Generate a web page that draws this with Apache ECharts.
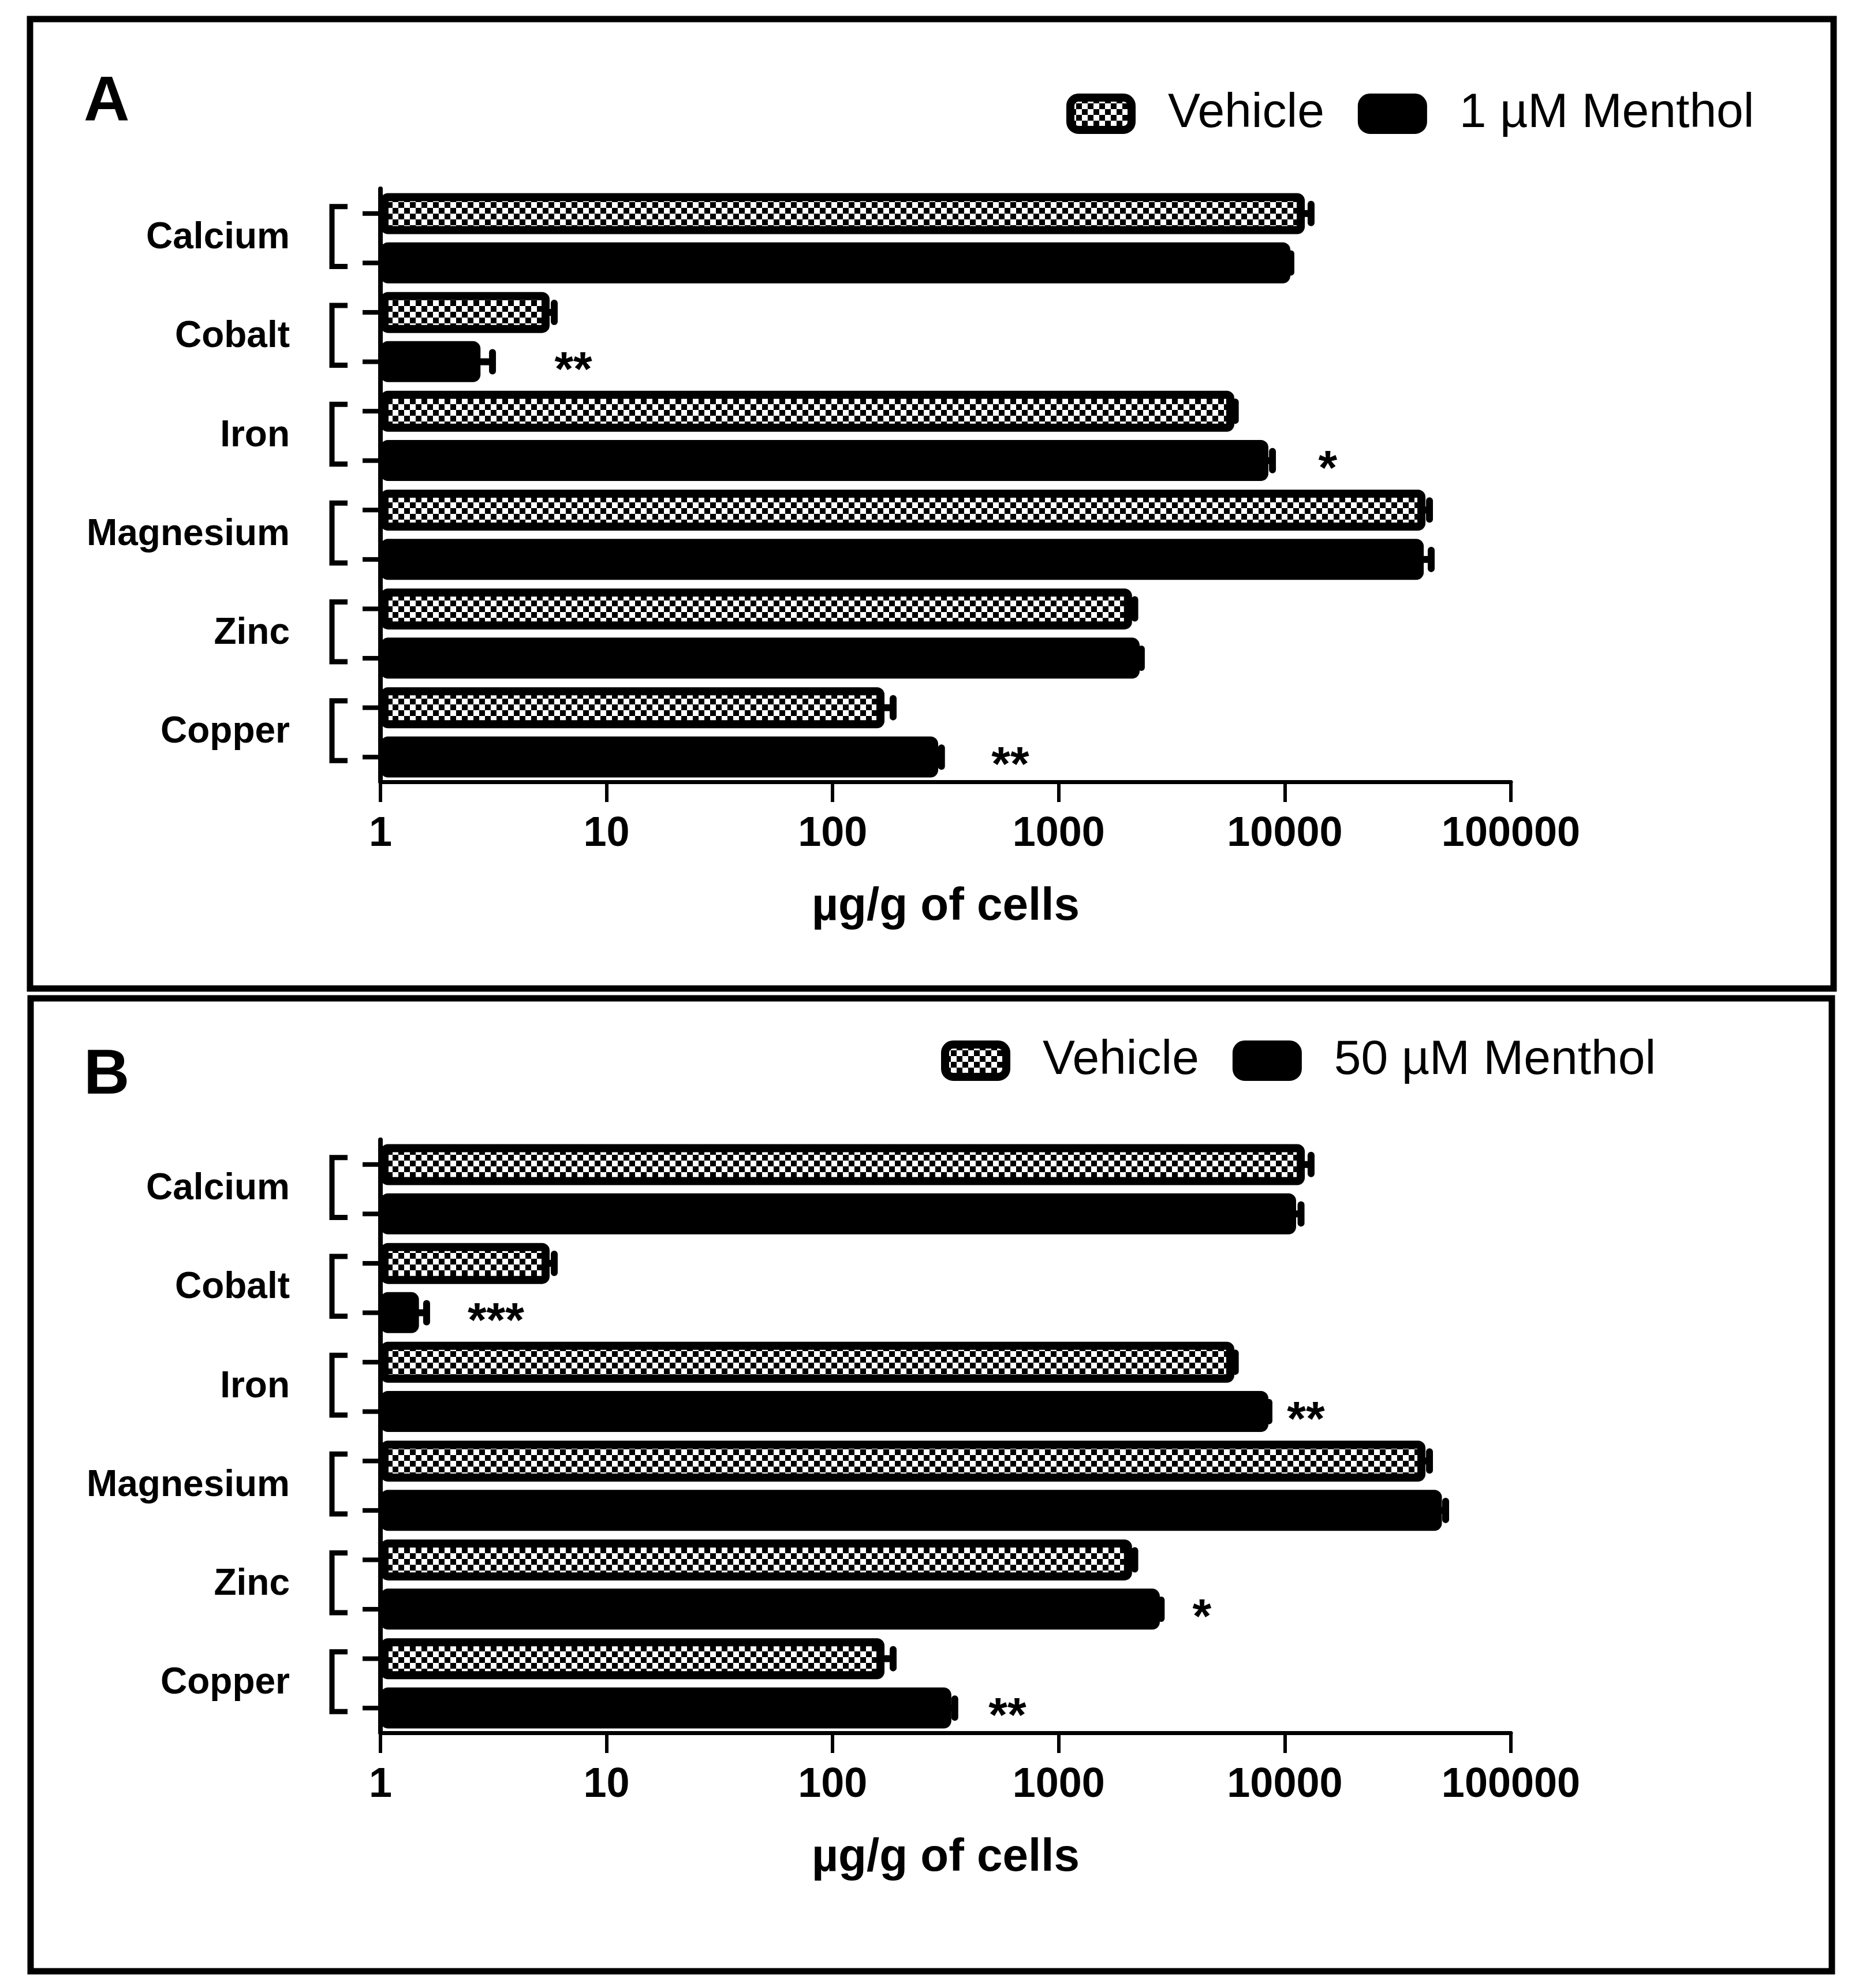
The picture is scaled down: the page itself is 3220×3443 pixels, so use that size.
<!DOCTYPE html>
<html><head><meta charset="utf-8">
<script src="https://cdn.jsdelivr.net/npm/echarts@6/dist/echarts.min.js"></script>
<style>html,body{margin:0;padding:0;background:#fff}#c{width:3220px;height:3443px}</style>
</head><body><div id="c"></div>
<script>
// ---------------- data ----------------
const categories = ['Calcium', 'Cobalt', 'Iron', 'Magnesium', 'Zinc', 'Copper'];
const xTickLabels = ['1', '10', '100', '1000', '10000', '100000'];
const xAxisTitle = 'µg/g of cells';

const vehicleA     = [12260, 5.60, 5980, 41900, 2110, 169.6];
const vehicleSemA  = [810,   0.27, 60,   1750,  60,   15.6];
const menthol1     = [10580, 2.77, 8460, 41170, 2280, 293];
const menthol1Sem  = [60,    0.36, 360,  3250,  40,   10];

const vehicleB     = [12260, 5.60, 5980, 41900, 2110, 169.6];
const vehicleSemB  = [810,   0.27, 60,   1750,  60,   15.6];
const menthol50    = [11220, 1.48, 8460, 49530, 2800, 335];
const menthol50Sem = [580,   0.12, 50,   1930,  40,   12];

const sigACats = ['Cobalt', 'Iron', 'Copper'];
const sigAX    = [7.13, 15500, 611];
const sigAText = ['**', '*', '**'];
const sigBCats = ['Cobalt', 'Iron', 'Zinc', 'Copper'];
const sigBX    = [3.24, 12400, 4300, 593];
const sigBText = ['***', '**', '*', '**'];

const panelLabels = ['A', 'B'];
const seriesNamesA = ['Vehicle', '1 µM Menthol'];
const seriesNamesB = ['Vehicle', '50 µM Menthol'];

// ---------------- styles ----------------
const FONT = '"Liberation Sans", Arial, sans-serif';
function checker() {
  const c = document.createElement('canvas');
  c.width = 20; c.height = 20;
  const g = c.getContext('2d');
  g.fillStyle = '#fff'; g.fillRect(0, 0, 20, 20);
  g.fillStyle = '#000'; g.fillRect(0, 0, 10, 10); g.fillRect(10, 10, 10, 10);
  return c;
}
const checkerFill = { image: checker(), repeat: 'repeat' };

const PANEL_SHIFT = 1647;
const gridTopA = 327, gridH = 1027, gridLeft = 659, gridW = 1958;

function grid(i) {
  return { left: gridLeft, width: gridW, top: gridTopA + i * PANEL_SHIFT, height: gridH, containLabel: false };
}
function xAxis(i) {
  return {
    gridIndex: i, type: 'log', logBase: 10, min: 1, max: 100000,
    axisLine: { show: true, lineStyle: { color: '#000', width: 7 } },
    axisTick: { show: true, length: 35, lineStyle: { color: '#000', width: 6 } },
    splitLine: { show: false },
    axisLabel: {
      color: '#000', fontSize: 72, fontWeight: 'bold', fontFamily: FONT, margin: 55,
      formatter: v => xTickLabels[Math.round(Math.log10(v))]
    },
    name: xAxisTitle, nameLocation: 'middle', nameGap: 177,
    nameTextStyle: { color: '#000', fontSize: 80, fontWeight: 'bold', fontFamily: FONT }
  };
}
function yAxis(i) {
  return {
    gridIndex: i, type: 'category', data: categories, inverse: true,
    axisLine: { show: true, lineStyle: { color: '#000', width: 8 } },
    axisTick: { show: false },
    axisLabel: { color: '#000', fontSize: 64, fontWeight: 'bold', fontFamily: FONT, margin: 157, padding: [18, 0, 0, 0] }
  };
}
function barSeries(name, data, i, fill) {
  return {
    name, type: 'bar', xAxisIndex: i, yAxisIndex: i, data,
    barWidth: 71, barGap: '20%',
    itemStyle: { color: fill, borderColor: '#000', borderWidth: 14, borderRadius: 6 },
    emphasis: { disabled: true }, z: 2
  };
}
function errSeries(means, sems, slot, i) {
  return {
    type: 'custom', xAxisIndex: i, yAxisIndex: i, clip: false, z: 3,
    data: means.map((m, k) => [m, k, sems[k], slot]),
    encode: { x: 0, y: 1 },
    renderItem: (params, api) => {
      const m = api.value(0), k = api.value(1), s = api.value(2), sl = api.value(3);
      const p0 = api.coord([m, k]);
      const p1 = api.coord([m + s, k]);
      const band = api.size([0, 1], [m, k])[1];
      const y = p0[1] + sl * band * 0.25;
      return { type: 'group', children: [
        { type: 'line', shape: { x1: p0[0] - 8, y1: y, x2: p1[0], y2: y }, style: { stroke: '#000', lineWidth: 12 } },
        { type: 'line', shape: { x1: p1[0], y1: y - 16, x2: p1[0], y2: y + 16 }, style: { stroke: '#000', lineWidth: 12, lineCap: 'round' } }
      ] };
    }
  };
}
function bracketSeries(i) {
  return {
    type: 'custom', xAxisIndex: i, yAxisIndex: i, clip: false, z: 3, silent: true,
    data: categories.map((c, k) => [1, k]),
    encode: { x: 0, y: 1 },
    renderItem: (params, api) => {
      const k = api.value(1);
      const p = api.coord([1, k]);
      const band = api.size([0, 1], [1, k])[1];
      const off = band * 0.25;
      const x0 = p[0], yc = p[1];
      const st = { stroke: '#000', lineWidth: 8, fill: null };
      return { type: 'group', children: [
        { type: 'line', shape: { x1: x0 - 31, y1: yc - off, x2: x0, y2: yc - off }, style: st },
        { type: 'line', shape: { x1: x0 - 31, y1: yc + off, x2: x0, y2: yc + off }, style: st },
        { type: 'polyline', shape: { points: [[x0 - 57, yc - off - 12], [x0 - 84, yc - off - 12], [x0 - 84, yc + off + 6], [x0 - 57, yc + off + 6]] },
          style: { stroke: '#000', lineWidth: 9, fill: null, lineJoin: 'miter' } }
      ] };
    }
  };
}
function sigSeries(cats, xs, texts, i) {
  return {
    type: 'custom', xAxisIndex: i, yAxisIndex: i, clip: false, z: 4, silent: true,
    data: cats.map((c, k) => [xs[k], categories.indexOf(c)]),
    encode: { x: 0, y: 1 },
    renderItem: (params, api) => {
      const d = params.dataIndex;
      const p = api.coord([api.value(0), api.value(1)]);
      const band = api.size([0, 1], [api.value(0), 0])[1];
      return { type: 'text', style: {
        text: texts[d], x: p[0], y: p[1] + band * 0.25 + 18,
        fill: '#000', fontSize: 84, fontWeight: 'bold', fontFamily: FONT,
        align: 'center', verticalAlign: 'middle' } };
    }
  };
}
function legend(names, left, top) {
  return {
    data: names, left, top, orient: 'horizontal',
    itemWidth: 106, itemHeight: 56, itemGap: 58,
    itemStyle: { borderColor: '#000', borderWidth: 14 },
    textStyle: { color: '#000', fontSize: 84, fontFamily: FONT, padding: [0, 0, 0, 58] },
    selectedMode: false
  };
}

const option = {
  animation: false,
  backgroundColor: '#fff',
  title: [
    { text: panelLabels[0], left: 140, top: 118, textStyle: { fontSize: 110, fontWeight: 'bold', fontFamily: FONT, color: '#000' } },
    { text: panelLabels[1], left: 140, top: 1804, textStyle: { fontSize: 110, fontWeight: 'bold', fontFamily: FONT, color: '#000' } }
  ],
  legend: [legend(seriesNamesA, 1842, 150), legend(seriesNamesB, 1625, 1790)],
  grid: [grid(0), grid(1)],
  xAxis: [xAxis(0), xAxis(1)],
  yAxis: [yAxis(0), yAxis(1)],
  series: [
    barSeries(seriesNamesA[0], vehicleA, 0, checkerFill),
    barSeries(seriesNamesA[1], menthol1, 0, '#000'),
    errSeries(vehicleA, vehicleSemA, -1, 0),
    errSeries(menthol1, menthol1Sem, 1, 0),
    bracketSeries(0),
    sigSeries(sigACats, sigAX, sigAText, 0),
    barSeries(seriesNamesB[0], vehicleB, 1, checkerFill),
    barSeries(seriesNamesB[1], menthol50, 1, '#000'),
    errSeries(vehicleB, vehicleSemB, -1, 1),
    errSeries(menthol50, menthol50Sem, 1, 1),
    bracketSeries(1),
    sigSeries(sigBCats, sigBX, sigBText, 1)
  ],
  graphic: [
    { type: 'rect', silent: true, shape: { x: 52, y: 33, width: 3124, height: 1679 }, style: { fill: null, stroke: '#000', lineWidth: 11 } },
    { type: 'rect', silent: true, shape: { x: 53, y: 1729, width: 3120, height: 1685 }, style: { fill: null, stroke: '#000', lineWidth: 11 } }
  ]
};

const chart = echarts.init(document.getElementById('c'), null, { renderer: 'canvas' });
chart.setOption(option);
</script></body></html>
